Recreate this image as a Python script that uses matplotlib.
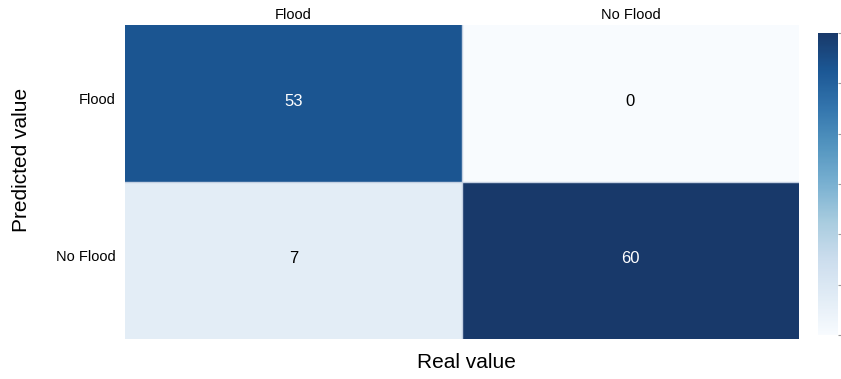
import matplotlib
matplotlib.use("Agg")
import matplotlib.pyplot as plt
import matplotlib.transforms as mtransforms
from matplotlib.colors import ListedColormap
import numpy as np

plt.rcParams['font.family'] = ['Liberation Sans', 'DejaVu Sans']

classes = ["Flood", "No Flood"]
counts = np.array([[53, 0],
                   [7, 60]])

# Slightly muted version of the Blues colormap
base = plt.get_cmap("Blues")(np.linspace(0, 1, 256))[:, :3]
lum = (base @ np.array([0.3, 0.59, 0.11]))[:, None]
muted = base * 0.82 + lum * 0.18 + np.linspace(0, 1, 256)[:, None] * 0.04
cmap = ListedColormap(np.clip(muted, 0, 1))

fig = plt.figure(figsize=(8.41, 3.79), dpi=100)
W, H = 841, 379

def rect(x0, y0, x1, y1):
    return [x0 / W, 1 - y1 / H, (x1 - x0) / W, (y1 - y0) / H]

ax = fig.add_axes(rect(125, 25, 799, 339))
cax = fig.add_axes(rect(818, 33, 838, 335))

mesh = ax.pcolormesh(counts, cmap=cmap, vmin=0, vmax=60, linewidth=0)
ax.set_xlim(0, 2)
ax.set_ylim(2, 0)
# thin separators between the cells
ax.axhline(1, color="#c4d0e2", lw=1.0)
ax.axvline(1, color="#c4d0e2", lw=1.0)

for i in range(2):
    for j in range(2):
        v = counts[i, j]
        col = "white" if v > 30 else "black"
        ax.text(j + 0.5, i + 0.5 - 0.01, str(v), ha="center", va="center",
                fontsize=12, color=col)

ax.xaxis.tick_top()
ax.set_xticks([0.5, 1.5])
ax.set_xticklabels(classes, fontsize=10.5)
ax.set_yticks([0.5, 1.5])
ax.set_yticklabels(classes, fontsize=10.5, rotation=0)
ax.tick_params(axis="x", length=0, pad=2)
ax.tick_params(axis="y", length=0, pad=7)
shift = mtransforms.ScaledTranslation(0, 5 / 100, fig.dpi_scale_trans)
for lbl in ax.get_yticklabels():
    lbl.set_transform(lbl.get_transform() + shift)
for s in ax.spines.values():
    s.set_visible(False)

fig.text(22 / W, 1 - 160 / H, "Predicted value", rotation=90,
         ha="center", va="center", fontsize=15)
fig.text(466 / W, 1 - 362 / H, "Real value", ha="center", va="center",
         fontsize=15)

cb = fig.colorbar(mesh, cax=cax)
cb.outline.set_visible(False)
cb.set_ticks([0, 10, 20, 30, 40, 50, 60])
cax.tick_params(length=3, width=0.8, color="#999999", labelsize=10)

fig.savefig("out.png", dpi=100)
